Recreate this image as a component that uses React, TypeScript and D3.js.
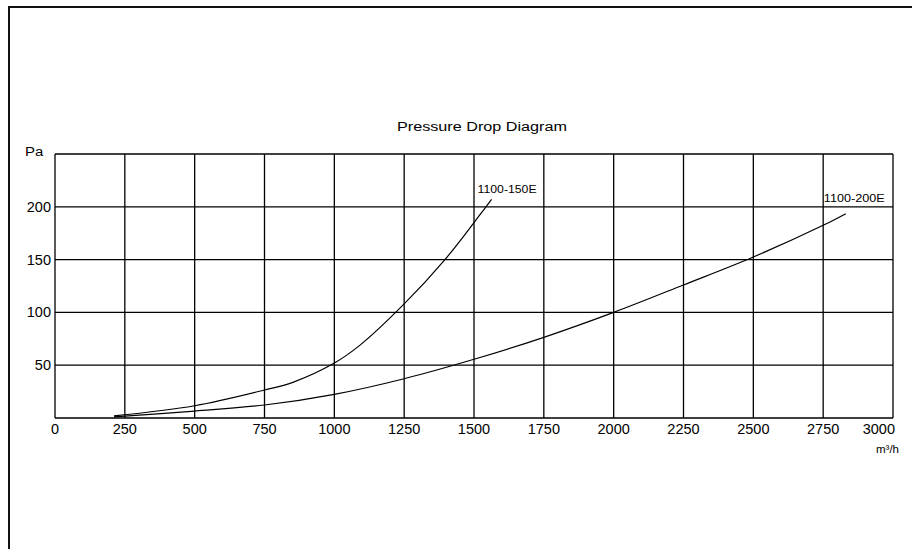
import * as d3 from "d3";

interface Point {
    x: number;
    y: number;
}

// axis ticks (m³/h and Pa)
const xTickValues = [0, 250, 500, 750, 1000, 1250, 1500, 1750, 2000, 2250, 2500, 2750, 3000];
const yTickValues = [50, 100, 150, 200];
const yGridValues = [50, 100, 150, 200, 250];

const flow150E = [211, 500, 750, 854, 1000, 1092, 1250, 1396, 1500, 1540, 1563];
const drop150E = [2, 11.6, 26.5, 34, 52, 69, 108, 150, 185, 199, 207];

const flow200E = [211, 500, 750, 1000, 1250, 1500, 1750, 2000, 2250, 2500, 2750, 2831];
const drop200E = [1, 6.6, 12.3, 22.4, 37.2, 55.6, 76.4, 100, 126, 152.5, 182.5, 193.5];

const seriesNames = ["1100-150E", "1100-200E"];

const toPoints = (xs: number[], ys: number[]): Point[] =>
    xs.map((x, i) => ({ x, y: ys[i] }));

const W = 912;
const H = 549;
const margin = { top: 154, right: 19, bottom: 131, left: 55 };
const FONT = "'Liberation Sans', Arial, Helvetica, sans-serif";

export default function App() {
    const xScale = d3
        .scaleLinear()
        .domain([0, 3000])
        .range([margin.left, W - margin.right]);
    const yScale = d3
        .scaleLinear()
        .domain([0, 250])
        .range([H - margin.bottom, margin.top]);

    const line = d3
        .line<Point>()
        .x((d) => xScale(d.x))
        .y((d) => yScale(d.y))
        .curve(d3.curveCatmullRom.alpha(0.5));

    const series = [
        { name: seriesNames[0], points: toPoints(flow150E, drop150E), labelDx: -14, labelDy: -6, labelW: 59 },
        { name: seriesNames[1], points: toPoints(flow200E, drop200E), labelDx: -22, labelDy: -12, labelW: 61 },
    ];

    const x0 = xScale(0);
    const x1 = xScale(3000);
    const y0 = yScale(0);
    const y1 = yScale(250);

    return (
        <svg
            width={W}
            height={H}
            style={{ position: "absolute", left: 0, top: 0, background: "#fff" }}
            fontFamily={FONT}
        >
            {/* outer frame, runs off the page right and bottom */}
            <rect x={9} y={7} width={1000} height={1000} fill="none" stroke="#111" strokeWidth={2} />

            <text x={482} y={131} fontSize={12.5} textAnchor="middle" textLength={170} lengthAdjust="spacingAndGlyphs">
                Pressure Drop Diagram
            </text>

            {/* grid */}
            {xTickValues.map((t) => (
                <line key={"gx" + t} x1={xScale(t)} x2={xScale(t)} y1={y1} y2={y0} stroke="#000" strokeWidth={1.3} />
            ))}
            {yGridValues.map((t) => (
                <line key={"gy" + t} x1={x0} x2={x1} y1={yScale(t)} y2={yScale(t)} stroke="#000" strokeWidth={1.3} />
            ))}
            <line x1={x0} x2={x1} y1={y0} y2={y0} stroke="#000" strokeWidth={1.3} />

            {/* x axis labels */}
            {xTickValues.map((t, i) => (
                <text
                    key={"lx" + t}
                    x={i === xTickValues.length - 1 ? xScale(t) + 2 : xScale(t)}
                    y={y0 + 16}
                    fontSize={14.5}
                    textAnchor={i === xTickValues.length - 1 ? "end" : "middle"}
                >
                    {t}
                </text>
            ))}
            <text x={899} y={453} fontSize={11.5} textAnchor="end">
                m³/h
            </text>

            {/* y axis labels */}
            {yTickValues.map((t) => (
                <text key={"ly" + t} x={51} y={yScale(t) + 5} fontSize={14.5} textAnchor="end">
                    {t}
                </text>
            ))}
            <text x={25} y={156} fontSize={12.5} textLength={18.3} lengthAdjust="spacingAndGlyphs">
                Pa
            </text>

            {/* curves */}
            {series.map((s) => {
                const last = s.points[s.points.length - 1];
                return (
                    <g key={s.name}>
                        <path d={line(s.points) ?? ""} fill="none" stroke="#000" strokeWidth={1.2} />
                        <text
                            x={xScale(last.x) + s.labelDx}
                            y={yScale(last.y) + s.labelDy}
                            fontSize={10.5}
                            textLength={s.labelW}
                            lengthAdjust="spacingAndGlyphs"
                        >
                            {s.name}
                        </text>
                    </g>
                );
            })}
        </svg>
    );
}
